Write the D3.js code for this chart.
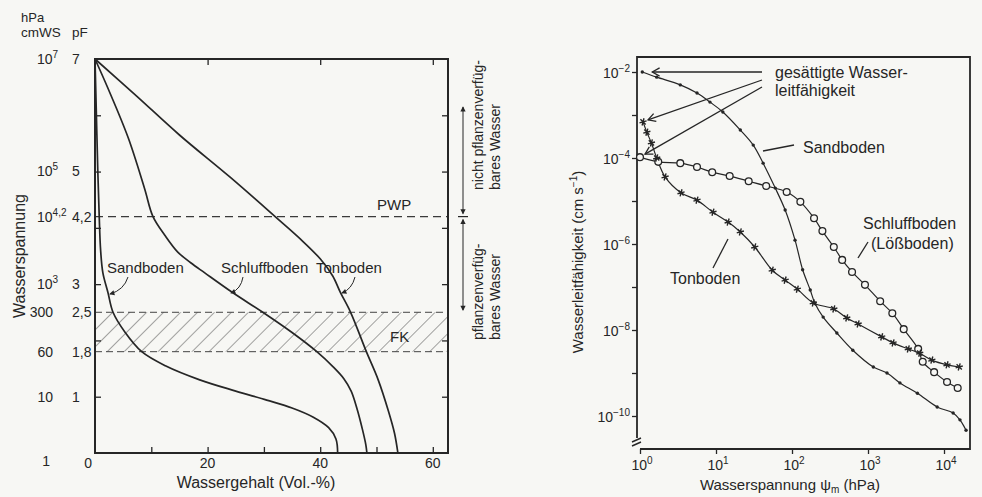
<!DOCTYPE html>
<html>
<head>
<meta charset="utf-8">
<script src="https://cdn.jsdelivr.net/npm/d3@7"></script>
<style>
body { margin: 0; background: #f7f7f4; }
svg { display: block; font-family: "Liberation Sans", Arial, sans-serif; }
</style>
</head>
<body>
<svg width="982" height="497"></svg>
<script>
// ---- left panel data: water content (Vol.-%) vs pF ----
const sandTheta = [0, 0.25, 0.5, 0.75, 1.0, 1.4, 2.3, 3.2, 5.3, 8.3, 12.5, 18.6, 25, 30.5, 35, 38.7, 41.5, 42.8, 43.1];
const sandPF    = [7, 6, 5, 4.2, 3.6, 3.2, 2.85, 2.5, 2.15, 1.8, 1.55, 1.3, 1.1, 0.94, 0.8, 0.64, 0.45, 0.25, 0];
const schluffTheta = [0, 2.3, 5.9, 8.8, 10.3, 12.4, 14.7, 17, 19.5, 24.3, 29.8, 35, 39.4, 42.3, 44.2, 45.5, 46.5, 47.5, 48.1, 48.3];
const schluffPF    = [7, 6.48, 5.6, 4.7, 4.2, 3.87, 3.57, 3.38, 3.2, 2.86, 2.5, 2.14, 1.8, 1.53, 1.32, 1.1, 0.8, 0.42, 0.15, 0];
const tonTheta = [0, 7.3, 15, 24, 32, 36.5, 40, 42.2, 43.6, 45.4, 48.2, 50.3, 52.1, 53.2, 53.8];
const tonPF    = [7, 6.35, 5.65, 4.9, 4.2, 3.8, 3.45, 3.15, 2.85, 2.5, 1.8, 1.3, 0.75, 0.35, 0];

const pfTicks   = [7, 5, 4.2, 3, 2.5, 1.8, 1];
const pfLabels  = ['7', '5', '4,2', '3', '2,5', '1,8', '1'];
const hpaLabels = [['10', '7'], ['10', '5'], ['10', '4,2'], ['10', '3'], ['300'], ['60'], ['10']];
const thetaLabels = [20, 40, 60];
const pwp = 4.2;
const fk = [1.8, 2.5];

// ---- right panel data: log10 suction (hPa) vs log10 conductivity (cm/s) ----
const sandLgPsi = [0.03, 0.22, 0.53, 0.75, 0.92, 1.09, 1.32, 1.49, 1.62, 1.78, 1.91, 2.04, 2.14, 2.24, 2.30, 2.41, 2.59, 2.80, 3.07, 3.25, 3.42, 3.65, 3.91, 4.12, 4.21, 4.29];
const sandLgK   = [-2.00, -2.12, -2.30, -2.49, -2.70, -2.93, -3.35, -3.70, -4.12, -4.70, -5.21, -5.91, -6.60, -7.07, -7.37, -7.70, -8.07, -8.47, -8.86, -9.00, -9.23, -9.47, -9.79, -9.93, -10.09, -10.33];
const schluffLgPsi = [0, 0.24, 0.53, 0.75, 0.95, 1.18, 1.43, 1.66, 1.93, 2.11, 2.29, 2.40, 2.55, 2.66, 2.79, 2.96, 3.16, 3.32, 3.47, 3.66, 3.72, 3.87, 4.04, 4.18];
const schluffLgK   = [-3.98, -4.09, -4.12, -4.21, -4.33, -4.42, -4.54, -4.65, -4.79, -5.02, -5.40, -5.70, -6.07, -6.37, -6.65, -6.95, -7.33, -7.61, -7.98, -8.44, -8.74, -8.98, -9.21, -9.35];
const tonLgPsi = [0.04, 0.09, 0.15, 0.22, 0.33, 0.54, 0.75, 0.96, 1.16, 1.32, 1.51, 1.74, 1.91, 2.07, 2.28, 2.55, 2.72, 2.87, 3.18, 3.33, 3.53, 3.68, 3.84, 4.04, 4.20];
const tonLgK   = [-3.16, -3.40, -3.65, -4.00, -4.44, -4.81, -4.98, -5.26, -5.49, -5.72, -6.07, -6.61, -6.84, -7.05, -7.37, -7.51, -7.72, -7.86, -8.16, -8.30, -8.44, -8.54, -8.70, -8.81, -8.86];

const kExp   = [-2, -4, -6, -8, -10];
const psiExp = [0, 1, 2, 3, 4];

const svg = d3.select('svg');
const ink = '#262626';
const bg = '#f7f7f4';
const zip = (a, b) => a.map((v, i) => [v, b[i]]);
const pw = e => Math.pow(10, e);

const defs = svg.append('defs');
defs.append('pattern').attr('id', 'hatch')
    .attr('patternUnits', 'userSpaceOnUse').attr('width', 12).attr('height', 12)
    .attr('patternTransform', 'rotate(45)')
  .append('line').attr('x1', 0).attr('y1', 0).attr('x2', 0).attr('y2', 12)
    .attr('stroke', '#4a4a4a').attr('stroke-width', 1);
defs.append('marker').attr('id', 'fillhead').attr('viewBox', '-6 -4 8 8')
    .attr('markerWidth', 7).attr('markerHeight', 7).attr('orient', 'auto-start-reverse')
    .attr('markerUnits', 'userSpaceOnUse')
  .append('path').attr('d', 'M-5,-3L1,0L-5,3Z').attr('fill', ink);
defs.append('marker').attr('id', 'openhead').attr('viewBox', '-10 -6 12 12')
    .attr('markerWidth', 11).attr('markerHeight', 11).attr('orient', 'auto')
    .attr('markerUnits', 'userSpaceOnUse')
  .append('path').attr('d', 'M-8,-4.5L0,0L-8,4.5').attr('fill', 'none')
    .attr('stroke', ink).attr('stroke-width', 1.4);

// ================= LEFT PANEL =================
const xL = d3.scaleLinear().domain([0, 62.7]).range([95, 448]);
const yL = d3.scaleLinear().domain([0, 7]).range([453, 59]);
const gL = svg.append('g');

// FK band
gL.append('rect')
  .attr('x', xL(0)).attr('y', yL(fk[1]))
  .attr('width', xL(62.7) - xL(0)).attr('height', yL(fk[0]) - yL(fk[1]))
  .attr('fill', 'url(#hatch)');
fk.forEach(v => gL.append('line')
  .attr('x1', xL(0)).attr('x2', xL(62.7)).attr('y1', yL(v)).attr('y2', yL(v))
  .attr('stroke', '#444').attr('stroke-width', 1).attr('stroke-dasharray', '7,4'));
// PWP
gL.append('line')
  .attr('x1', xL(0)).attr('x2', xL(62.7)).attr('y1', yL(pwp)).attr('y2', yL(pwp))
  .attr('stroke', '#3a3a3a').attr('stroke-width', 1.1).attr('stroke-dasharray', '8,5');

// inner ticks via d3 axes
const tickIn = 6;
const axL = gL.append('g').attr('transform', `translate(${xL(0)},0)`)
  .call(d3.axisLeft(yL).tickValues([1, 2, 3, 4, 5, 6]).tickSize(-tickIn).tickFormat(''));
const axR = gL.append('g').attr('transform', `translate(${xL(62.7)},0)`)
  .call(d3.axisRight(yL).tickValues([1, 2, 3, 4, 5, 6]).tickSize(-tickIn).tickFormat(''));
const axB = gL.append('g').attr('transform', `translate(0,${yL(0)})`)
  .call(d3.axisBottom(xL).tickValues([10, 20, 30, 40, 50, 60]).tickSize(-tickIn).tickFormat(''));
const axT = gL.append('g').attr('transform', `translate(0,${yL(7)})`)
  .call(d3.axisTop(xL).tickValues([20, 40, 60]).tickSize(-tickIn).tickFormat(''));
[axL, axR, axB, axT].forEach(a => {
  a.select('.domain').remove();
  a.selectAll('line').attr('stroke', ink).attr('stroke-width', 1.3);
});

// frame
gL.append('rect')
  .attr('x', xL(0)).attr('y', yL(7))
  .attr('width', xL(62.7) - xL(0)).attr('height', yL(0) - yL(7))
  .attr('fill', 'none').attr('stroke', ink).attr('stroke-width', 2);

// curves
const lineL = d3.line().x(d => xL(d[0])).y(d => yL(d[1])).curve(d3.curveCatmullRom.alpha(0.5));
[[sandTheta, sandPF], [schluffTheta, schluffPF], [tonTheta, tonPF]].forEach(([a, b]) => {
  gL.append('path').attr('d', lineL(zip(a, b)))
    .attr('fill', 'none').attr('stroke', ink).attr('stroke-width', 1.7);
});

// y tick labels
const fs = 14;
pfTicks.forEach((v, i) => {
  gL.append('text').attr('x', 72).attr('y', yL(v)).attr('dy', '0.35em')
    .attr('font-size', fs).attr('fill', ink).text(pfLabels[i]);
  const h = hpaLabels[i];
  if (h.length === 2) {
    const t = gL.append('text').attr('x', 37).attr('y', yL(v)).attr('dy', '0.35em')
      .attr('font-size', fs).attr('fill', ink);
    t.append('tspan').text(h[0]);
    t.append('tspan').attr('font-size', 10).attr('dy', -6).text(h[1]);
  } else {
    gL.append('text').attr('x', 53).attr('y', yL(v)).attr('dy', '0.35em')
      .attr('text-anchor', 'end').attr('font-size', fs).attr('fill', ink).text(h[0]);
  }
});
gL.append('text').attr('x', 50).attr('y', yL(0) + 13).attr('text-anchor', 'end')
  .attr('font-size', fs).attr('fill', ink).text('1');
gL.append('text').attr('x', xL(0) - 3).attr('y', yL(0) + 15).attr('text-anchor', 'end')
  .attr('font-size', fs).attr('fill', ink).text('0');
thetaLabels.forEach(v => gL.append('text').attr('x', xL(v)).attr('y', yL(0) + 15)
  .attr('text-anchor', 'middle').attr('font-size', fs).attr('fill', ink).text(v));

gL.append('text').attr('x', 21).attr('y', 22).attr('font-size', 13).attr('fill', ink).text('hPa');
gL.append('text').attr('x', 21).attr('y', 37).attr('font-size', 13.5).attr('fill', ink).text('cmWS');
gL.append('text').attr('x', 72).attr('y', 37).attr('font-size', 13.5).attr('fill', ink).text('pF');

gL.append('text').attr('transform', 'translate(19,256) rotate(-90)').attr('dy', '0.35em')
  .attr('text-anchor', 'middle').attr('font-size', 16).attr('fill', ink).text('Wasserspannung');
gL.append('text').attr('x', 256).attr('y', 488).attr('text-anchor', 'middle')
  .attr('font-size', 16).attr('fill', ink).text('Wassergehalt (Vol.-%)');

gL.append('text').attr('x', 377).attr('y', 210).attr('font-size', 15).attr('fill', ink).text('PWP');
gL.append('text').attr('x', 390).attr('y', 342).attr('font-size', 15).attr('fill', ink).text('FK');

// curve labels with hooked pointers
const curveLabels = [
  { t: 'Sandboden', x: 107, y: 273, p: 'M128,277 Q124,290 110,294' },
  { t: 'Schluffboden', x: 221, y: 273, p: 'M243,277 Q241,289 231,293' },
  { t: 'Tonboden', x: 316, y: 273, p: 'M355,277 Q352,289 342,293' }
];
curveLabels.forEach(c => {
  gL.append('text').attr('x', c.x).attr('y', c.y).attr('font-size', 15).attr('fill', ink).text(c.t);
  gL.append('path').attr('d', c.p).attr('fill', 'none').attr('stroke', ink)
    .attr('stroke-width', 1).attr('marker-end', 'url(#fillhead)');
});

// available / unavailable water brackets
const bx = 463;
gL.append('line').attr('x1', bx).attr('x2', bx).attr('y1', 107).attr('y2', yL(pwp) - 3)
  .attr('stroke', ink).attr('stroke-width', 1)
  .attr('marker-start', 'url(#fillhead)').attr('marker-end', 'url(#fillhead)');
gL.append('line').attr('x1', bx).attr('x2', bx).attr('y1', yL(pwp) + 3).attr('y2', 310)
  .attr('stroke', ink).attr('stroke-width', 1)
  .attr('marker-start', 'url(#fillhead)').attr('marker-end', 'url(#fillhead)');
gL.append('line').attr('x1', bx - 5).attr('x2', bx + 5).attr('y1', yL(pwp)).attr('y2', yL(pwp))
  .attr('stroke', ink).attr('stroke-width', 1.2);
[['nicht pflanzenverfüg-', 478, 190], ['bares Wasser', 495, 190],
 ['pflanzenverfüg-', 478, 340], ['bares Wasser', 495, 340]].forEach(([t, x, y]) => {
  gL.append('text').attr('transform', `translate(${x},${y}) rotate(-90)`).attr('dy', '0.35em')
    .attr('font-size', 14).attr('fill', ink).text(t);
});

// ================= RIGHT PANEL =================
const xR = d3.scaleLog().domain([1, pw(4.342)]).range([640, 970]);
const yR = d3.scaleLog().domain([1e-2, 1e-10]).range([72, 416]);
const gR = svg.append('g');
const topY = 57, botY = 449, leftX = 637, rightX = 970;

// frame
gR.append('path')
  .attr('d', `M${leftX},438 L${leftX},${topY} L${rightX},${topY} L${rightX},${botY} L640,${botY}`)
  .attr('fill', 'none').attr('stroke', ink).attr('stroke-width', 1.8);
gR.append('path').attr('d', `M${leftX - 5},442 L${leftX + 4},438 M${leftX - 5},446 L${leftX + 4},442`)
  .attr('fill', 'none').attr('stroke', ink).attr('stroke-width', 1.4);

// axes ticks (outward)
const yAx = gR.append('g').attr('transform', `translate(${leftX},0)`)
  .call(d3.axisLeft(yR).tickValues(d3.range(-2, -11, -1).map(pw)).tickSize(5).tickFormat(''));
const xAx = gR.append('g').attr('transform', `translate(0,${botY})`)
  .call(d3.axisBottom(xR).tickValues(psiExp.map(pw)).tickSize(5).tickFormat(''));
[yAx, xAx].forEach(a => {
  a.select('.domain').remove();
  a.selectAll('line').attr('stroke', ink).attr('stroke-width', 1.3);
});

kExp.forEach(e => {
  const t = gR.append('text').attr('x', 630).attr('y', yR(pw(e))).attr('dy', '0.4em')
    .attr('text-anchor', 'end').attr('font-size', fs).attr('fill', ink);
  t.append('tspan').text('10');
  t.append('tspan').attr('font-size', 10).attr('dy', -6).text('\u2212' + (-e));
});
psiExp.forEach(e => {
  const t = gR.append('text').attr('x', xR(pw(e)) + 2).attr('y', botY + 21)
    .attr('text-anchor', 'middle').attr('font-size', fs).attr('fill', ink);
  t.append('tspan').text('10');
  t.append('tspan').attr('font-size', 10).attr('dy', -6).text(e);
});

gR.append('text').attr('transform', 'translate(578,262) rotate(-90)').attr('dy', '0.35em')
  .attr('text-anchor', 'middle').attr('font-size', 15).attr('fill', ink)
  .call(t => {
    t.append('tspan').text('Wasserleitfähigkeit (cm s');
    t.append('tspan').attr('font-size', 10).attr('dy', -6).text('\u22121');
    t.append('tspan').attr('dy', 6).text(')');
  });
gR.append('text').attr('x', 790).attr('y', 490).attr('text-anchor', 'middle')
  .attr('font-size', 15).attr('fill', ink)
  .call(t => {
    t.append('tspan').text('Wasserspannung \u03c8');
    t.append('tspan').attr('font-size', 10).attr('dy', 3).text('m');
    t.append('tspan').attr('dy', -3).text(' (hPa)');
  });

// curves
const lineR = d3.line().x(d => xR(pw(d[0]))).y(d => yR(pw(d[1]))).curve(d3.curveCatmullRom.alpha(0.5));
const sandPts = zip(sandLgPsi, sandLgK);
const schluffPts = zip(schluffLgPsi, schluffLgK);
const tonPts = zip(tonLgPsi, tonLgK);
[sandPts, schluffPts, tonPts].forEach(p => {
  gR.append('path').attr('d', lineR(p)).attr('fill', 'none')
    .attr('stroke', ink).attr('stroke-width', 1.2);
});
gR.selectAll('.sd').data(sandPts).enter().append('circle')
  .attr('cx', d => xR(pw(d[0]))).attr('cy', d => yR(pw(d[1]))).attr('r', 1.7).attr('fill', ink);
gR.selectAll('.sc').data(schluffPts).enter().append('circle')
  .attr('cx', d => xR(pw(d[0]))).attr('cy', d => yR(pw(d[1]))).attr('r', 3.4)
  .attr('fill', bg).attr('stroke', ink).attr('stroke-width', 1.3);
const star = d3.symbol().type(d3.symbolAsterisk).size(38);
gR.selectAll('.tn').data(tonPts).enter().append('path')
  .attr('transform', d => `translate(${xR(pw(d[0]))},${yR(pw(d[1]))}) rotate(15)`)
  .attr('d', star).attr('fill', 'none').attr('stroke', ink).attr('stroke-width', 1.4);

// saturated conductivity arrows
const arrowTargets = [
  [xR(pw(sandPts[0][0])) + 10, yR(pw(sandPts[0][1])), 72],
  [xR(pw(tonPts[0][0])) + 5, yR(pw(tonPts[0][1])) - 2, 80],
  [xR(pw(schluffPts[0][0])) + 5, yR(pw(schluffPts[0][1])) - 3, 87]
];
arrowTargets.forEach(([tx, ty, sy]) => {
  gR.append('line').attr('x1', 762).attr('y1', sy).attr('x2', tx).attr('y2', ty)
    .attr('stroke', ink).attr('stroke-width', 1.3).attr('marker-end', 'url(#openhead)');
});
gR.append('text').attr('x', 775).attr('y', 78).attr('font-size', 16).attr('fill', ink).text('gesättigte Wasser-');
gR.append('text').attr('x', 775).attr('y', 96).attr('font-size', 16).attr('fill', ink).text('leitfähigkeit');

const rLabels = [
  { t: 'Sandboden', x: 803, y: 153, l: [763, 151, 794, 145] },
  { t: 'Schluffboden', x: 863, y: 229, l: [858, 258, 868, 242] },
  { t: '(Lößboden)', x: 871, y: 249, l: null },
  { t: 'Tonboden', x: 670, y: 284, l: [713, 268, 728, 239] }
];
rLabels.forEach(c => {
  gR.append('text').attr('x', c.x).attr('y', c.y).attr('font-size', 16).attr('fill', ink).text(c.t);
  if (c.l) gR.append('line').attr('x1', c.l[0]).attr('y1', c.l[1]).attr('x2', c.l[2]).attr('y2', c.l[3])
    .attr('stroke', ink).attr('stroke-width', 1.3);
});
</script>
</body>
</html>
